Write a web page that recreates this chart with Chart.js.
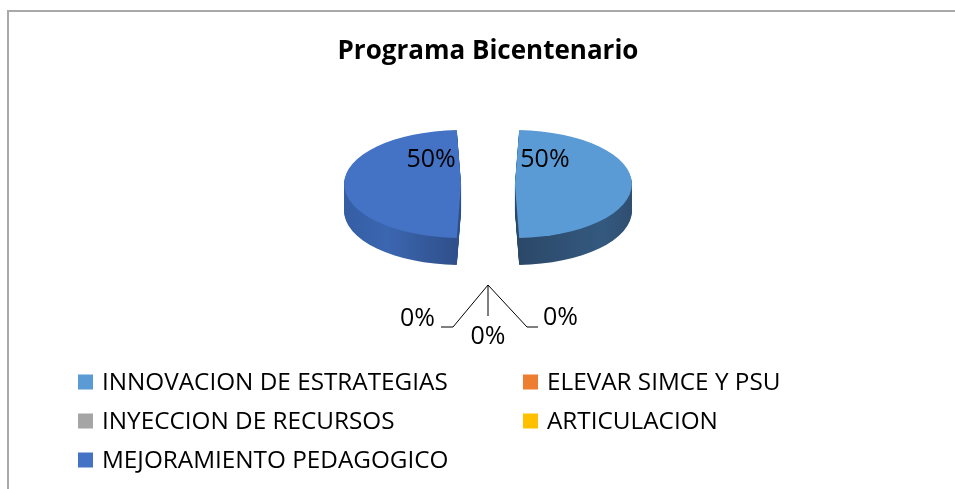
<!DOCTYPE html>
<html>
<head>
<meta charset="utf-8">
<title>Programa Bicentenario</title>
<script src="https://cdn.jsdelivr.net/npm/chart.js@4.4.1/dist/chart.umd.min.js"></script>
<style>
    html, body { margin: 0; padding: 0; background: #fff; }
    canvas { display: block; }
</style>
</head>
<body>
<canvas id="pieChart" width="955" height="489"></canvas>
<script>
const chartTitle = "Programa Bicentenario";
const categories = [
    "INNOVACION DE ESTRATEGIAS",
    "ELEVAR SIMCE Y PSU",
    "INYECCION DE RECURSOS",
    "ARTICULACION",
    "MEJORAMIENTO PEDAGOGICO",
];
const shares = [50, 0, 0, 0, 50];
const sliceColors = ["#5B9BD5", "#ED7D31", "#A5A5A5", "#FFC000", "#4472C4"];

const FONT = "'Open Sans', 'Noto Sans', sans-serif";
const STRETCH_X = 1.17;  // flat pie squashed into an ellipse
const STRETCH_Y = 0.54;
const DEPTH = 27;

function toScreen(arc, px, py) {
    return {
        x: arc.x + (px - arc.x) * STRETCH_X,
        y: arc.y + (py - arc.y) * STRETCH_Y,
    };
}

// Chart.js grows an exploded arc by offset/4 (scaled by how far from a full half it is)
function drawnRadius(arc) {
    const shift = (arc.options.offset || 0) / 4;
    const fix = 1 - Math.sin(Math.min(Math.PI, arc.circumference || 0));
    return arc.outerRadius + shift * fix;
}

function sideFill(ctx, arc, index) {
    const r = drawnRadius(arc) + 25;
    const g = ctx.createLinearGradient(arc.x - r, 0, arc.x + r, 0);
    if (index === 0) {
        g.addColorStop(0.5, "#2B4767");
        g.addColorStop(0.8, "#34597F");
        g.addColorStop(1, "#2A4462");
    } else {
        g.addColorStop(0, "#30589C");
        g.addColorStop(0.25, "#3B66B0");
        g.addColorStop(0.5, "#2E4E88");
    }
    return g;
}

function withStretch(ctx, arc) {
    ctx.translate(arc.x, arc.y);
    ctx.scale(STRETCH_X, STRETCH_Y);
    ctx.translate(-arc.x, -arc.y);
}

const pie3d = {
    id: "pie3d",
    beforeDraw(chart) {
        const ctx = chart.ctx;
        const area = chart.chartArea;
        ctx.save();
        ctx.strokeStyle = "#A9A9A9";
        ctx.lineWidth = 2;
        ctx.beginPath();
        ctx.moveTo(8, chart.height);
        ctx.lineTo(8, 11);
        ctx.lineTo(chart.width, 11);
        ctx.stroke();

        ctx.fillStyle = "#000";
        ctx.font = "bold 26px " + FONT;
        ctx.textAlign = "center";
        ctx.textBaseline = "middle";
        ctx.fillText(chartTitle, (area.left + area.right) / 2, 52);
        ctx.restore();
    },
    beforeDatasetDraw(chart, args) {
        const ctx = chart.ctx;
        const arcs = args.meta.data;
        // side wall: the same arcs, stacked downward in darker colours
        for (let d = DEPTH; d >= 1; d--) {
            ctx.save();
            ctx.translate(0, d);
            withStretch(ctx, arcs[0]);
            arcs.forEach((arc, i) => {
                if (arc.circumference === 0) return;
                const orig = arc.options;
                arc.options = Object.assign({}, orig, {
                    backgroundColor: sideFill(ctx, arc, i),
                    borderWidth: 0,
                });
                arc.draw(ctx);
                arc.options = orig;
            });
            ctx.restore();
        }
        ctx.save();
        withStretch(ctx, arcs[0]);
    },
    afterDatasetDraw(chart, args) {
        const ctx = chart.ctx;
        ctx.restore();

        const arcs = args.meta.data;
        const values = chart.data.datasets[0].data;
        const total = values.reduce((a, b) => a + b, 0);
        ctx.save();
        ctx.fillStyle = "#000";
        ctx.font = "25px " + FONT;
        ctx.textBaseline = "middle";

        const zeros = [];
        arcs.forEach((arc, i) => {
            const pct = Math.round(values[i] / total * 100) + "%";
            const mid = (arc.startAngle + arc.endAngle) / 2;
            if (values[i] === 0) {
                zeros.push({ arc, pct, mid });
                return;
            }
            const shift = (arc.options.offset || 0) / 4;
            const a = mid + (Math.cos(mid) > 0 ? -1 : 1) * 60 * Math.PI / 180;
            const r = drawnRadius(arc) * 0.513;
            const p = toScreen(arc,
                arc.x + Math.cos(mid) * shift + Math.cos(a) * r,
                arc.y + Math.sin(mid) * shift + Math.sin(a) * r);
            ctx.textAlign = "center";
            ctx.fillText(pct, p.x, p.y);
        });

        if (zeros.length) {
            const first = zeros[0];
            const rr = drawnRadius(first.arc);
            const rim = toScreen(first.arc,
                first.arc.x + Math.cos(first.mid) * rr,
                first.arc.y + Math.sin(first.mid) * rr);
            const apex = { x: rim.x, y: rim.y + DEPTH + 20 };
            // right, middle, left leader lines (clockwise order at the bottom)
            const leaders = [
                { path: [[39, 42], [50, 42]], text: [55, 33], align: "left" },
                { path: [[0, 31]], text: [0, 52], align: "center" },
                { path: [[-35, 42], [-47, 42]], text: [-53, 34], align: "right" },
            ];
            ctx.strokeStyle = "#000";
            ctx.lineWidth = 1;
            zeros.forEach((z, k) => {
                const l = leaders[k % leaders.length];
                ctx.beginPath();
                ctx.moveTo(apex.x, apex.y);
                l.path.forEach(([dx, dy]) => ctx.lineTo(apex.x + dx, apex.y + dy));
                ctx.stroke();
                ctx.textAlign = l.align;
                ctx.fillText(z.pct, apex.x + l.text[0], apex.y + l.text[1]);
            });
        }
        ctx.restore();
    },
    afterDraw(chart) {
        const ctx = chart.ctx;
        const colX = [78, 523];
        const rowY = [382, 421, 460];
        const colors = chart.data.datasets[0].backgroundColor;
        ctx.save();
        ctx.font = "24.3px " + FONT;
        ctx.textBaseline = "middle";
        ctx.textAlign = "left";
        chart.data.labels.forEach((label, i) => {
            const x = colX[i % 2];
            const y = rowY[Math.floor(i / 2)];
            ctx.fillStyle = colors[i];
            ctx.fillRect(x, y - 7.5, 15, 15);
            ctx.fillStyle = "#000";
            ctx.fillText(label, x + 24, y + 1);
        });
        ctx.restore();
    },
};

new Chart(document.getElementById("pieChart"), {
    type: "pie",
    data: {
        labels: categories,
        datasets: [
            {
                data: shares,
                backgroundColor: sliceColors,
                borderWidth: 0,
                offset: 92,
                radius: 77,
            },
        ],
    },
    options: {
        responsive: false,
        animation: false,
        layout: {
            padding: { left: 21, right: 0, top: 0, bottom: 121 },
        },
        plugins: {
            legend: { display: false },
            tooltip: { enabled: false },
            title: { display: false },
        },
    },
    plugins: [pie3d],
});
</script>
</body>
</html>
